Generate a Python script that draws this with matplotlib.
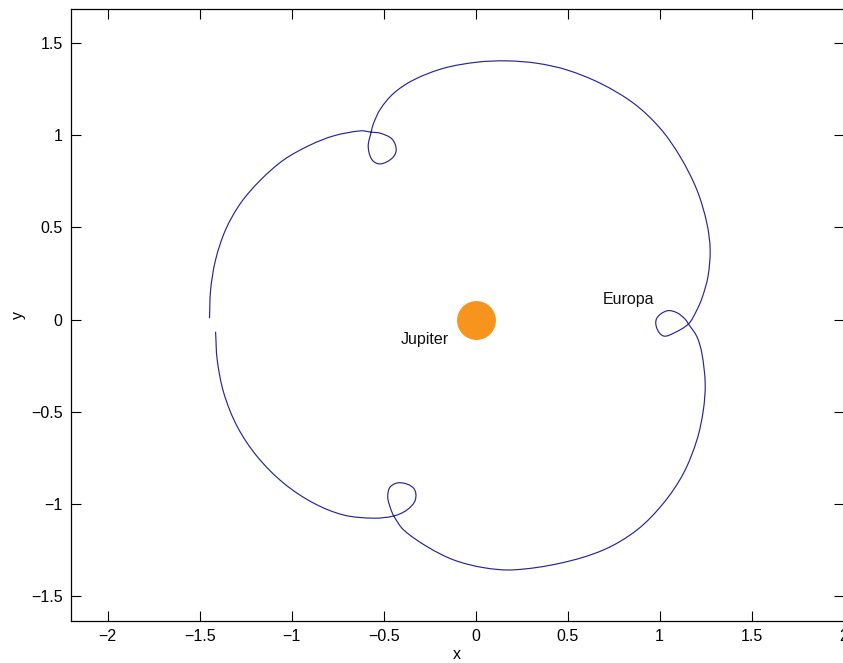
import math
import matplotlib
matplotlib.use("Agg")
import matplotlib.pyplot as plt
from matplotlib.path import Path
from matplotlib.patches import PathPatch

plt.rcParams['font.family'] = ['Liberation Sans', 'DejaVu Sans']

# Trajectory (rotating frame)
traj_x = [-1.447, -1.441, -1.414, -1.360, -1.278, -1.169, -1.043, -0.898, -0.771,
          -0.627, -0.568, -0.518, -0.454, -0.432, -0.454, -0.518, -0.563, -0.584,
          -0.568, -0.556, -0.518, -0.445, -0.337, -0.174, 0.008, 0.171, 0.334, 0.496,
          0.677, 0.858, 1.003, 1.112, 1.203, 1.257, 1.275, 1.263, 1.231, 1.199,
          1.157, 1.076, 1.021, 0.985, 0.985, 1.040, 1.094, 1.139, 1.157, 1.203,
          1.230, 1.248, 1.238, 1.203, 1.130, 1.021, 0.877, 0.695, 0.460,
          0.206, 0.043, -0.120, -0.264, -0.391, -0.445, -0.463, -0.478, -0.463,
          -0.409, -0.337, -0.328, -0.373, -0.445, -0.554, -0.717, -0.880, -1.043,
          -1.187, -1.296, -1.369, -1.405, -1.414]
traj_y = [0.007, 0.160, 0.323, 0.485, 0.630, 0.756, 0.865, 0.946, 0.995,
          1.022, 1.015, 1.009, 0.977, 0.919, 0.874, 0.843, 0.865, 0.937,
          1.015, 1.060, 1.140, 1.226, 1.298, 1.361, 1.394, 1.401, 1.388, 1.352,
          1.280, 1.172, 1.036, 0.882, 0.702, 0.522, 0.377, 0.232, 0.117, 0.044,
          -0.024, -0.074, -0.089, -0.047, 0.007, 0.047, 0.037, 0.002, -0.024, -0.093,
          -0.183, -0.345, -0.490, -0.652, -0.833, -0.995, -1.140, -1.248, -1.320,
          -1.356, -1.344, -1.302, -1.230, -1.140, -1.064, -1.022, -0.959, -0.905,
          -0.884, -0.914, -0.977, -1.031, -1.064, -1.076, -1.059, -0.995, -0.887,
          -0.743, -0.580, -0.399, -0.219, -0.066]

jupiter_xy = (0.0, 0.0)
labels = ["Jupiter", "Europa"]
label_x = [-0.41, 0.69]
label_y = [-0.107, 0.106]

xticks = [-2, -1.5, -1, -0.5, 0, 0.5, 1, 1.5, 2]
yticks = [-1.5, -1, -0.5, 0, 0.5, 1, 1.5]


def smooth_path(xs, ys):
    """Cubic Bezier path through the given points; tangent lengths follow chord lengths."""
    pts = list(zip(xs, ys))
    n = len(pts)

    def tangent(i):
        a = pts[max(i - 1, 0)]
        b = pts[min(i + 1, n - 1)]
        dx, dy = b[0] - a[0], b[1] - a[1]
        L = math.hypot(dx, dy) or 1.0
        return dx / L, dy / L

    verts = [pts[0]]
    codes = [Path.MOVETO]
    for i in range(n - 1):
        p1, p2 = pts[i], pts[i + 1]
        d = math.hypot(p2[0] - p1[0], p2[1] - p1[1]) / 3.0
        t1, t2 = tangent(i), tangent(i + 1)
        c1 = (p1[0] + t1[0] * d, p1[1] + t1[1] * d)
        c2 = (p2[0] - t2[0] * d, p2[1] - t2[1] * d)
        verts += [c1, c2, p2]
        codes += [Path.CURVE4] * 3
    return Path(verts, codes)


fig = plt.figure(figsize=(8.43, 6.63), dpi=100)
ax = fig.add_axes([71 / 843, 42 / 663, (843.5 - 71) / 843, (621 - 9) / 663])

ax.add_patch(PathPatch(smooth_path(traj_x, traj_y), facecolor='none',
                       edgecolor='#262696', lw=0.85))
ax.plot([jupiter_xy[0]], [jupiter_xy[1]], 'o', color='#f7941e', markersize=28,
        markeredgewidth=0)
for t, lx, ly in zip(labels, label_x, label_y):
    ax.text(lx, ly, t, fontsize=11.5, ha='left', va='center', color='#111111')

ax.set_xlim(-2.2, 2.0)
ax.set_ylim(-1.633, 1.682)
ax.set_xticks(xticks)
ax.set_yticks(yticks)
ax.set_xticklabels([('\u2212' + f'{abs(v):g}') if v < 0 else f'{v:g}' for v in xticks])
ax.set_yticklabels([('\u2212' + f'{abs(v):g}') if v < 0 else f'{v:g}' for v in yticks])
ax.tick_params(direction='in', length=7, width=0.8, top=True, right=True,
               labelsize=11.5, pad=6)
for s in ax.spines.values():
    s.set_linewidth(0.9)
ax.set_xlabel('x', fontsize=11.5, labelpad=2)
ax.set_ylabel('y', fontsize=11.5, labelpad=4)

fig.savefig('out.png', dpi=100)
